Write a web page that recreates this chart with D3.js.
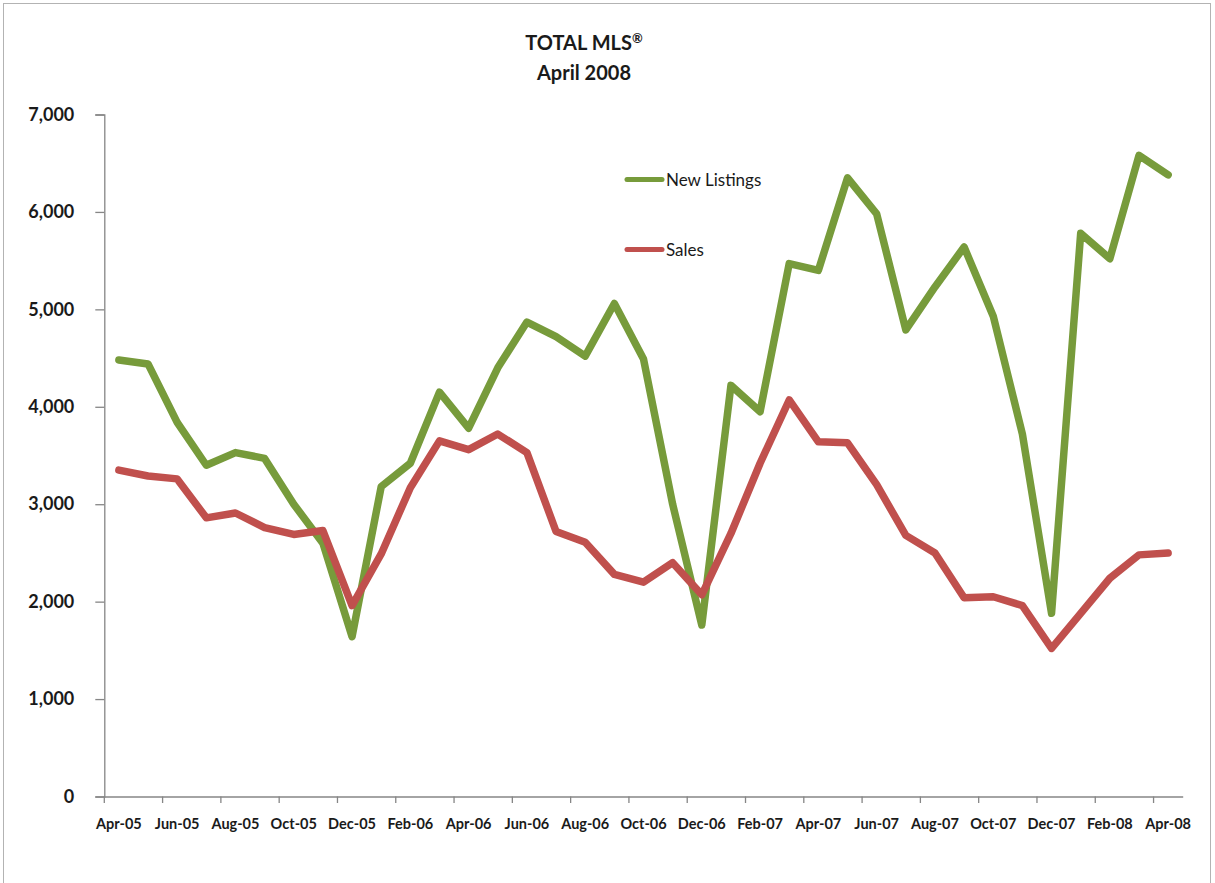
<!DOCTYPE html>
<html>
<head>
<meta charset="utf-8">
<script src="https://cdn.jsdelivr.net/npm/d3@7"></script>
<style>
  html, body { margin: 0; padding: 0; background: #fff; }
  svg { display: block; }
  text { font-family: Lato, "Open Sans", "DejaVu Sans", sans-serif; fill: #1a1a1a; }
</style>
</head>
<body>
<svg id="chart" width="1215" height="883"></svg>
<script>
const months = ["Apr-05","May-05","Jun-05","Jul-05","Aug-05","Sep-05","Oct-05","Nov-05","Dec-05",
  "Jan-06","Feb-06","Mar-06","Apr-06","May-06","Jun-06","Jul-06","Aug-06","Sep-06","Oct-06","Nov-06","Dec-06",
  "Jan-07","Feb-07","Mar-07","Apr-07","May-07","Jun-07","Jul-07","Aug-07","Sep-07","Oct-07","Nov-07","Dec-07",
  "Jan-08","Feb-08","Mar-08","Apr-08"];
const newListings = [4480,4440,3840,3400,3530,3470,3000,2600,1640,
  3180,3420,4150,3780,4400,4870,4720,4520,5060,4490,3000,1760,
  4220,3950,5470,5400,6350,5980,4790,5230,5640,4930,3720,1880,
  5780,5520,6580,6380];
const sales = [3350,3290,3260,2860,2910,2760,2690,2730,1960,
  2490,3170,3650,3560,3720,3530,2720,2610,2280,2200,2400,2070,
  2700,3420,4070,3640,3630,3200,2680,2500,2040,2050,1960,1520,
  1880,2240,2480,2500];
const yTicks = [0,1000,2000,3000,4000,5000,6000,7000];
const labelMonths = months.filter((d, i) => i % 2 === 0);
const seriesNames = ["New Listings", "Sales"];
const seriesColors = ["#779b3b", "#c0504d"];

const svg = d3.select("#chart");

// outer chart border
svg.append("rect")
  .attr("x", 3.5).attr("y", 3.5).attr("width", 1207).attr("height", 900)
  .attr("fill", "none").attr("stroke", "#b3b3b3").attr("stroke-width", 1);

// title
const t1 = svg.append("text").attr("x", 584).attr("y", 50).attr("text-anchor", "middle")
  .attr("font-size", 20).attr("font-weight", "bold");
t1.append("tspan").text("TOTAL MLS");
t1.append("tspan").attr("font-size", 13).attr("dy", -7).text("®");
svg.append("text").attr("x", 584).attr("y", 80).attr("text-anchor", "middle")
  .attr("font-size", 20).attr("font-weight", "bold").text("April 2008");

const x = d3.scaleBand().domain(months).range([104.3, 1182.7]).padding(0);
const y = d3.scaleLinear().domain([0, 7000]).range([796.5, 114.5]);
const cx = m => x(m) + x.bandwidth() / 2;

const axisColor = "#868686";

// Y axis
const yAxis = svg.append("g").attr("transform", "translate(104.3,0)")
  .call(d3.axisLeft(y).tickValues(yTicks).tickFormat(d3.format(",")).tickSize(9).tickPadding(21));
yAxis.select(".domain").attr("stroke", axisColor).attr("stroke-width", 1.3);
yAxis.selectAll(".tick line").attr("stroke", axisColor).attr("stroke-width", 1.3);
yAxis.selectAll(".tick text").attr("font-size", 18).attr("font-weight", "bold")
  .attr("fill", "#1a1a1a").attr("font-family", "Lato, 'Open Sans', sans-serif");

// X axis: labels at category centres, tick marks at category boundaries
const xAxis = svg.append("g").attr("transform", "translate(0,796.5)")
  .call(d3.axisBottom(x).tickValues(labelMonths).tickSize(0).tickPadding(22).tickSizeOuter(0));
xAxis.select(".domain").attr("stroke", axisColor).attr("stroke-width", 1.3);
xAxis.selectAll(".tick text").attr("font-size", 14.5).attr("font-weight", "bold")
  .attr("fill", "#1a1a1a").attr("font-family", "Lato, 'Open Sans', sans-serif");

svg.append("g").selectAll("line.xt").data(labelMonths).join("line")
  .attr("x1", d => x(d)).attr("x2", d => x(d))
  .attr("y1", 796.5).attr("y2", 803)
  .attr("stroke", axisColor).attr("stroke-width", 1.3);

// lines
const line = d3.line().x((d, i) => cx(months[i])).y(d => y(d));
[newListings, sales].forEach((vals, k) => {
  svg.append("path").datum(vals)
    .attr("d", line)
    .attr("fill", "none")
    .attr("stroke", seriesColors[k])
    .attr("stroke-width", 7.5)
    .attr("stroke-linejoin", "round")
    .attr("stroke-linecap", "round");
});

// legend
const legend = svg.append("g");
const legendY = [179.5, 249.5];
seriesNames.forEach((name, k) => {
  legend.append("line")
    .attr("x1", 627).attr("x2", 662)
    .attr("y1", legendY[k]).attr("y2", legendY[k])
    .attr("stroke", seriesColors[k]).attr("stroke-width", 5).attr("stroke-linecap", "round");
  legend.append("text")
    .attr("x", 666).attr("y", legendY[k] + 6)
    .attr("font-size", 17).text(name);
});
</script>
</body>
</html>
